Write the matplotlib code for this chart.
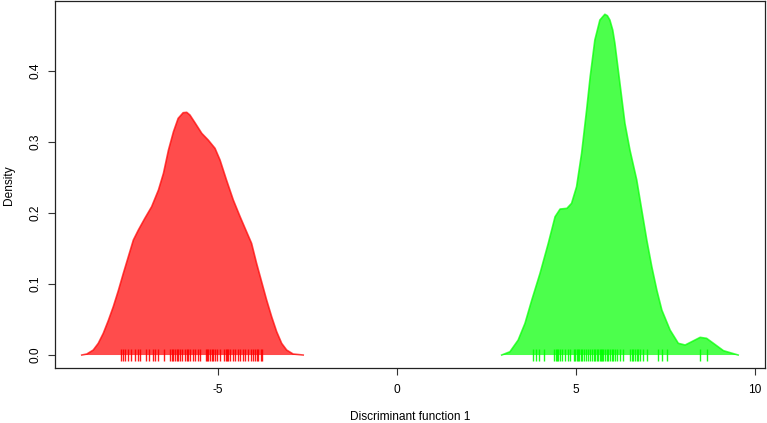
import numpy as np
import matplotlib
matplotlib.use("Agg")
import matplotlib.pyplot as plt

plt.rcParams['font.family'] = ['Liberation Sans', 'DejaVu Sans']

# density curve of group 1 (red)
red_x = [-8.79, -8.65, -8.47, -8.33, -8.19, -8.05, -7.91, -7.77, -7.63, -7.49,
         -7.35, -7.21, -7.03, -6.84, -6.65, -6.51, -6.37, -6.23, -6.10, -5.96,
         -5.86, -5.77, -5.63, -5.44, -5.26, -5.07, -4.93, -4.75, -4.56, -4.37,
         -4.19, -4.05, -3.91, -3.77, -3.63, -3.49, -3.35, -3.21, -3.07, -2.89,
         -2.61]
red_y = [0.0, 0.0014, 0.0070, 0.0164, 0.0305, 0.0484, 0.0681, 0.0906, 0.1150, 0.1385,
         0.1620, 0.1761, 0.1925, 0.2089, 0.2324, 0.2559, 0.2887, 0.3146, 0.3333, 0.3413,
         0.3418, 0.3380, 0.3272, 0.3122, 0.3028, 0.2911, 0.2746, 0.2465, 0.2183, 0.1948,
         0.1737, 0.1573, 0.1291, 0.1033, 0.0775, 0.0540, 0.0329, 0.0164, 0.0070, 0.0014,
         0.0]

# density curve of group 2 (green)
green_x = [2.93, 3.16, 3.39, 3.58, 3.77, 4.00, 4.23, 4.42, 4.56, 4.75,
           4.88, 5.02, 5.16, 5.30, 5.40, 5.53, 5.60, 5.67, 5.75, 5.81,
           5.88, 5.95, 6.03, 6.09, 6.23, 6.37, 6.51, 6.70, 6.84, 6.98,
           7.12, 7.26, 7.40, 7.63, 7.86, 8.05, 8.23, 8.47, 8.65, 8.84,
           9.12, 9.53]
green_y = [0.0, 0.0046, 0.0211, 0.0446, 0.0775, 0.1151, 0.1573, 0.1948, 0.2056, 0.2066,
           0.2136, 0.2370, 0.2840, 0.3451, 0.3920, 0.4437, 0.4577, 0.4718, 0.4765, 0.4799,
           0.4779, 0.4718, 0.4577, 0.4390, 0.3827, 0.3263, 0.2887, 0.2465, 0.2042, 0.1620,
           0.1244, 0.0915, 0.0634, 0.0352, 0.0165, 0.0141, 0.0187, 0.0249, 0.0235, 0.0165,
           0.0061, 0.0]

# individual scores (rug)
red_rug = [-7.70, -7.65, -7.59, -7.51, -7.41, -7.30, -7.21, -7.16, -7.00, -6.91,
           -6.81, -6.75, -6.67, -6.50, -6.33, -6.27, -6.24, -6.19, -6.14, -6.10,
           -6.05, -6.00, -5.91, -5.86, -5.82, -5.77, -5.69, -5.63, -5.54, -5.49,
           -5.32, -5.29, -5.26, -5.21, -5.16, -5.12, -5.07, -5.02, -4.93, -4.81,
           -4.77, -4.75, -4.70, -4.65, -4.58, -4.51, -4.44, -4.37, -4.30, -4.23,
           -4.14, -4.08, -4.02, -3.96, -3.91, -3.86, -3.80, -3.75]
green_rug = [3.79, 3.88, 3.97, 4.11, 4.40, 4.44, 4.47, 4.51, 4.56, 4.61,
             4.70, 4.79, 4.84, 4.95, 4.99, 5.02, 5.06, 5.10, 5.14, 5.18,
             5.23, 5.28, 5.35, 5.40, 5.44, 5.51, 5.54, 5.58, 5.62, 5.66,
             5.69, 5.73, 5.77, 5.81, 5.86, 5.91, 5.95, 6.00, 6.05, 6.09,
             6.14, 6.23, 6.32, 6.51, 6.56, 6.60, 6.65, 6.70, 6.74, 6.79,
             6.88, 6.98, 7.30, 7.40, 7.54, 8.47, 8.67]

fig = plt.figure(figsize=(7.67, 4.23), dpi=100)
ax = fig.add_axes([0.0717, 0.1293, 0.9257, 0.8683])

for xs, ys, rug, col in [(red_x, red_y, red_rug, (1, 0, 0)),
                         (green_x, green_y, green_rug, (0, 1, 0))]:
    ax.fill_between(xs, ys, 0, facecolor=col, alpha=0.7, edgecolor='none')
    ax.plot(xs, ys, color=col, alpha=0.7, lw=1.2, solid_joinstyle='round')
    ax.vlines(rug, -0.008, 0.008, color=col, alpha=0.9, lw=1.0)

ax.set_xlim(-9.537, 10.279)
ax.set_ylim(-0.0187, 0.4986)
ax.set_xticks([-5, 0, 5, 10])
ax.set_yticks([0.0, 0.1, 0.2, 0.3, 0.4])
ax.set_xticklabels(['-5', '0', '5', '10'])
ax.set_yticklabels(['0.0', '0.1', '0.2', '0.3', '0.4'])
ax.tick_params(axis='both', direction='out', length=5, width=0.8,
               labelsize=8.6, color='#333333')
ax.tick_params(axis='x', pad=6)
ax.tick_params(axis='y', pad=5, labelrotation=90)
for lbl in ax.get_yticklabels():
    lbl.set_va('center')

for s in ax.spines.values():
    s.set_color('#222222')
    s.set_linewidth(0.9)

ax.set_xlabel('Discriminant function 1', fontsize=8.6, labelpad=11)
ax.set_ylabel('Density', fontsize=8.6, labelpad=10)

fig.savefig('out.png', dpi=100)
